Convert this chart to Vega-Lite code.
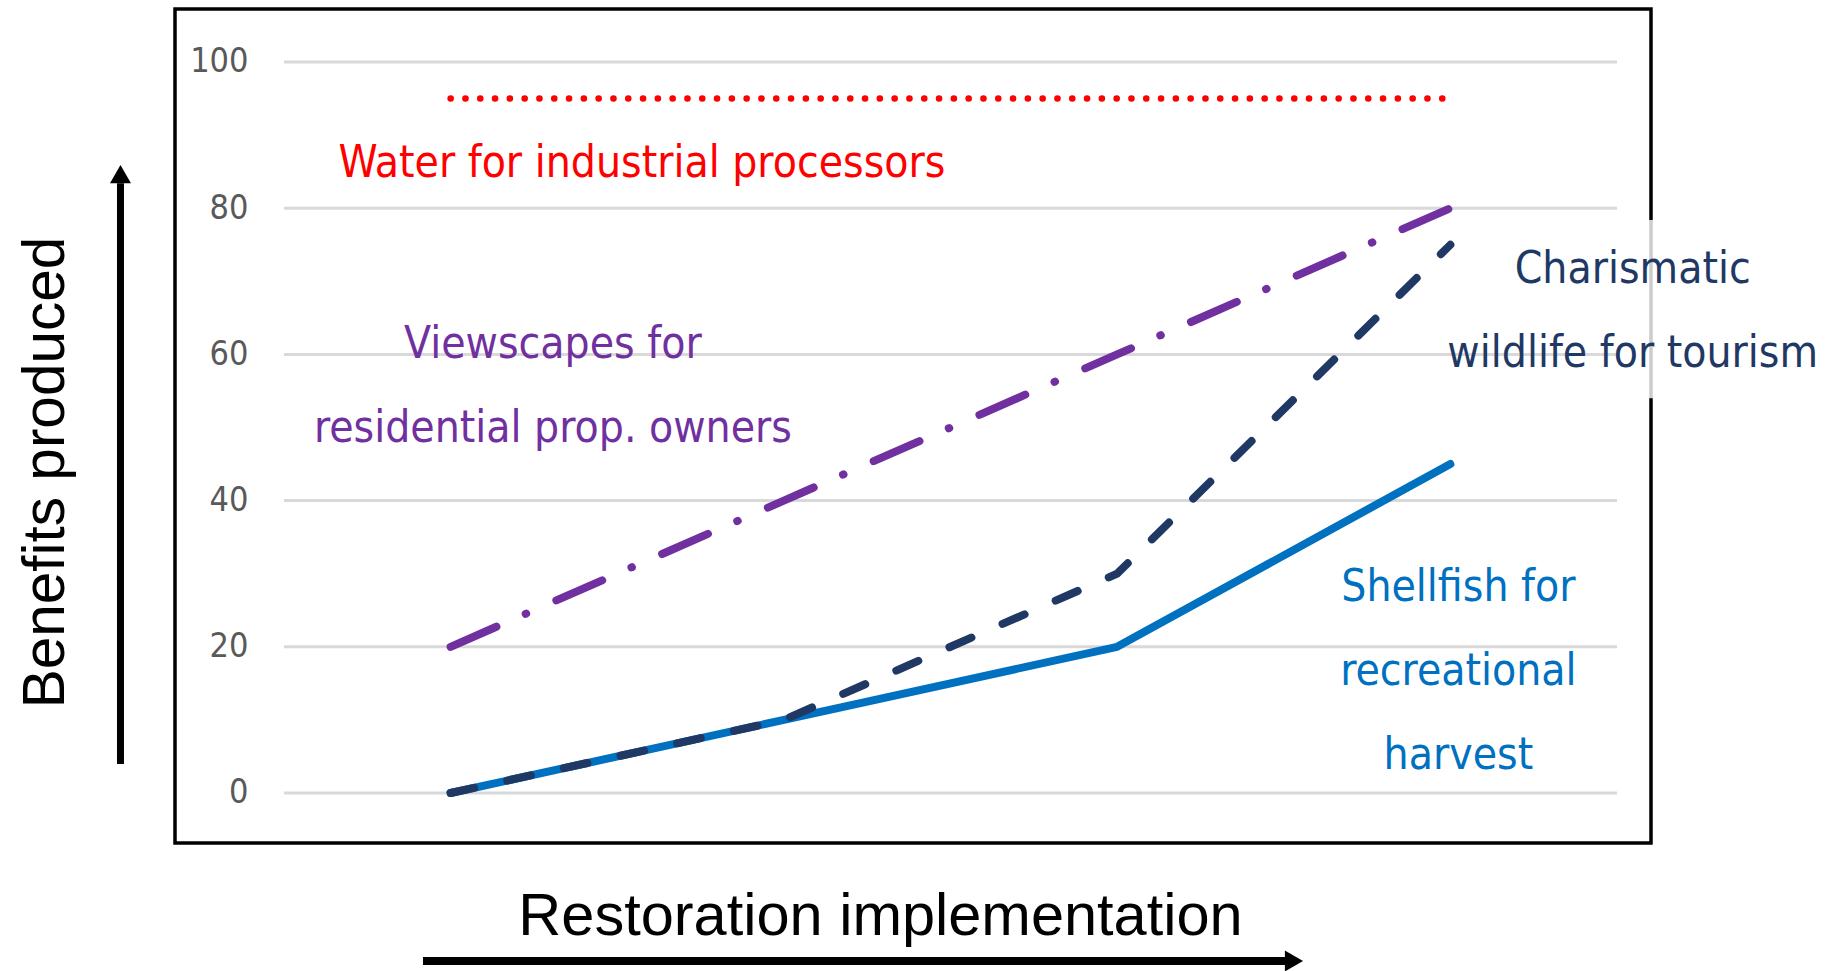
{
  "$schema": "https://vega.github.io/schema/vega-lite/v6.json",
  "width": 1476,
  "height": 834,
  "autosize": {"type": "none"},
  "padding": {"left": 175, "top": 9, "right": 178, "bottom": 128},
  "background": "white",
  "view": {"stroke": "black", "strokeWidth": 3.5},
  "resolve": {"axis": {"x": "independent", "y": "independent"}},
  "datasets": {
    "benefits": [
      {"series": "Water", "stage": 0, "benefit": 95},
      {"series": "Water", "stage": 1, "benefit": 95},
      {"series": "Water", "stage": 2, "benefit": 95},
      {"series": "Water", "stage": 3, "benefit": 95},
      {"series": "Viewscapes", "stage": 0, "benefit": 20},
      {"series": "Viewscapes", "stage": 1, "benefit": 40},
      {"series": "Viewscapes", "stage": 2, "benefit": 60},
      {"series": "Viewscapes", "stage": 3, "benefit": 80},
      {"series": "Shellfish", "stage": 0, "benefit": 0},
      {"series": "Shellfish", "stage": 1, "benefit": 10},
      {"series": "Shellfish", "stage": 2, "benefit": 20},
      {"series": "Shellfish", "stage": 3, "benefit": 45},
      {"series": "Charismatic", "stage": 0, "benefit": 0},
      {"series": "Charismatic", "stage": 1, "benefit": 10},
      {"series": "Charismatic", "stage": 2, "benefit": 30},
      {"series": "Charismatic", "stage": 3, "benefit": 75}
    ],
    "grid": [{"tick": 0}, {"tick": 20}, {"tick": 40}, {"tick": 60}, {"tick": 80}, {"tick": 100}],
    "labels": [
      {"series": "Water", "label": "Water for industrial processors", "stage": 0.574, "benefit": 84.2},
      {"series": "Viewscapes", "label": "Viewscapes for\nresidential prop. owners", "stage": 0.307, "benefit": 59.5},
      {"series": "Charismatic", "label": "Charismatic\nwildlife for tourism", "stage": 3.547, "benefit": 69.7},
      {"series": "Shellfish", "label": "Shellfish for\nrecreational\nharvest", "stage": 3.024, "benefit": 26.2}
    ]
  },
  "layer": [
    {
      "data": {"name": "grid"},
      "mark": {"type": "rule", "color": "#d9d9d9", "strokeWidth": 3},
      "encoding": {
        "y": {
          "field": "tick", "type": "quantitative",
          "scale": {"domain": [-6.84, 107.25], "nice": false, "zero": false},
          "axis": {
            "values": [0, 20, 40, 60, 80, 100],
            "offset": -73, "domain": false, "ticks": false, "grid": false,
            "labelPadding": 0, "labelFont": "DejaVu Sans Condensed",
            "labelFontSize": 34, "labelColor": "#595959", "labelAlign": "right", "labelBaseline": "middle",
            "labelFlush": false, "labelOverlap": false,
            "title": "Benefits produced", "titleFont": "Liberation Sans", "titleFontSize": 58.5,
            "titleFontWeight": "normal", "titleColor": "black", "titleX": -185, "titleY": 463,
            "titleAngle": -90, "titleAlign": "center", "titleBaseline": "alphabetic"
          }
        },
        "x": {
          "datum": -0.5, "type": "quantitative",
          "scale": {"domain": [-0.827, 3.602], "nice": false, "zero": false},
          "axis": {
            "labels": false, "ticks": false, "domain": false, "grid": false,
            "title": "Restoration implementation", "titleFont": "Liberation Sans", "titleFontSize": 59.5,
            "titleFontWeight": "normal", "titleColor": "black", "titleX": 705, "titleY": 91,
            "titleAlign": "center", "titleBaseline": "alphabetic"
          }
        },
        "x2": {"datum": 3.5}
      }
    },
    {
      "data": {"name": "benefits"},
      "transform": [{"filter": "datum.series === 'Water'"}],
      "mark": {"type": "line", "color": "#FF0000", "strokeWidth": 6.5, "strokeDash": [0.1, 14.7], "strokeCap": "round"},
      "encoding": {
        "x": {"field": "stage", "type": "quantitative", "scale": {"domain": [-0.827, 3.602], "nice": false, "zero": false}, "axis": null},
        "y": {"field": "benefit", "type": "quantitative", "scale": {"domain": [-6.84, 107.25], "nice": false, "zero": false}, "axis": null}
      }
    },
    {
      "data": {"name": "benefits"},
      "transform": [{"filter": "datum.series === 'Viewscapes'"}],
      "mark": {"type": "line", "color": "#7030A0", "strokeWidth": 8, "strokeDash": [50, 32, 0.5, 33], "strokeCap": "round"},
      "encoding": {
        "x": {"field": "stage", "type": "quantitative", "scale": {"domain": [-0.827, 3.602], "nice": false, "zero": false}, "axis": null},
        "y": {"field": "benefit", "type": "quantitative", "scale": {"domain": [-6.84, 107.25], "nice": false, "zero": false}, "axis": null}
      }
    },
    {
      "data": {"name": "benefits"},
      "transform": [{"filter": "datum.series === 'Shellfish'"}],
      "mark": {"type": "line", "color": "#0070C0", "strokeWidth": 8, "strokeCap": "round", "strokeJoin": "round"},
      "encoding": {
        "x": {"field": "stage", "type": "quantitative", "scale": {"domain": [-0.827, 3.602], "nice": false, "zero": false}, "axis": null},
        "y": {"field": "benefit", "type": "quantitative", "scale": {"domain": [-6.84, 107.25], "nice": false, "zero": false}, "axis": null}
      }
    },
    {
      "data": {"name": "benefits"},
      "transform": [{"filter": "datum.series === 'Charismatic'"}],
      "mark": {"type": "line", "color": "#1F3864", "strokeWidth": 8, "strokeDash": [24, 34], "strokeCap": "round"},
      "encoding": {
        "x": {"field": "stage", "type": "quantitative", "scale": {"domain": [-0.827, 3.602], "nice": false, "zero": false}, "axis": null},
        "y": {"field": "benefit", "type": "quantitative", "scale": {"domain": [-6.84, 107.25], "nice": false, "zero": false}, "axis": null}
      }
    },
    {
      "data": {"values": [{}]},
      "mark": {"type": "rect", "color": "white", "opacity": 0.8},
      "encoding": {
        "x": {"datum": 3.59, "type": "quantitative", "scale": {"domain": [-0.827, 3.602], "nice": false, "zero": false}, "axis": null},
        "x2": {"datum": 4.2},
        "y": {"datum": 78.4, "type": "quantitative", "scale": {"domain": [-6.84, 107.25], "nice": false, "zero": false}, "axis": null},
        "y2": {"datum": 54.0}
      }
    },
    {
      "data": {"name": "labels"},
      "mark": {"type": "text", "font": "DejaVu Sans Condensed", "fontSize": 44, "align": "center", "baseline": "alphabetic", "lineBreak": "\n", "lineHeight": 84},
      "encoding": {
        "x": {"field": "stage", "type": "quantitative", "scale": {"domain": [-0.827, 3.602], "nice": false, "zero": false}, "axis": null},
        "y": {"field": "benefit", "type": "quantitative", "scale": {"domain": [-6.84, 107.25], "nice": false, "zero": false}, "axis": null},
        "text": {"field": "label"},
        "color": {"field": "series", "type": "nominal", "scale": {"domain": ["Water", "Viewscapes", "Charismatic", "Shellfish"], "range": ["#FF0000", "#7030A0", "#1F3864", "#0070C0"]}, "legend": null}
      }
    },
    {
      "data": {"values": [{}]},
      "mark": {"type": "rule", "color": "black", "strokeWidth": 7, "strokeCap": "butt"},
      "encoding": {
        "x": {"datum": -0.9906, "type": "quantitative", "scale": {"domain": [-0.827, 3.602], "nice": false, "zero": false}, "axis": null},
        "y": {"datum": 3.97, "type": "quantitative", "scale": {"domain": [-6.84, 107.25], "nice": false, "zero": false}, "axis": null},
        "y2": {"datum": 83.4}
      }
    },
    {
      "data": {"values": [{}]},
      "mark": {"type": "point", "shape": "triangle-up", "size": 441, "filled": true, "color": "black", "opacity": 1, "strokeWidth": 0},
      "encoding": {
        "x": {"datum": -0.9906, "type": "quantitative", "scale": {"domain": [-0.827, 3.602], "nice": false, "zero": false}, "axis": null},
        "y": {"datum": 84.66, "type": "quantitative", "scale": {"domain": [-6.84, 107.25], "nice": false, "zero": false}, "axis": null}
      }
    },
    {
      "data": {"values": [{}]},
      "mark": {"type": "rule", "color": "black", "strokeWidth": 8, "strokeCap": "butt"},
      "encoding": {
        "x": {"datum": -0.0829, "type": "quantitative", "scale": {"domain": [-0.827, 3.602], "nice": false, "zero": false}, "axis": null},
        "x2": {"datum": 2.507},
        "y": {"datum": -22.98, "type": "quantitative", "scale": {"domain": [-6.84, 107.25], "nice": false, "zero": false}, "axis": null}
      }
    },
    {
      "data": {"values": [{}]},
      "mark": {"type": "point", "shape": "triangle-right", "size": 441, "filled": true, "color": "black", "opacity": 1, "strokeWidth": 0},
      "encoding": {
        "x": {"datum": 2.5306, "type": "quantitative", "scale": {"domain": [-0.827, 3.602], "nice": false, "zero": false}, "axis": null},
        "y": {"datum": -22.98, "type": "quantitative", "scale": {"domain": [-6.84, 107.25], "nice": false, "zero": false}, "axis": null}
      }
    }
  ]
}
